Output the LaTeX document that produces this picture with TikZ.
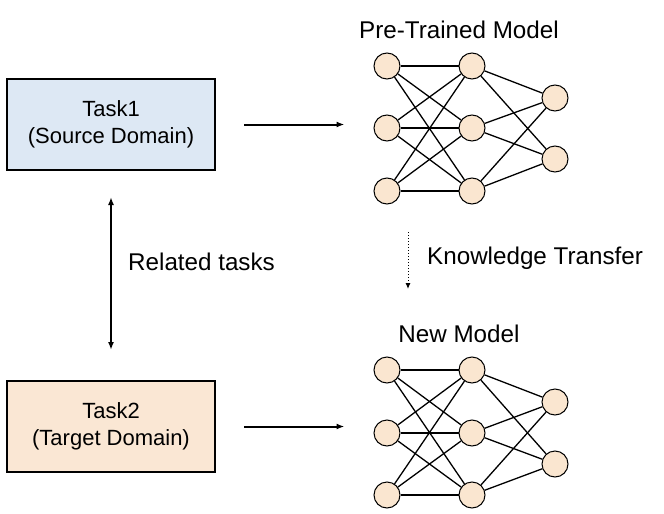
\documentclass[tikz,border=0pt]{standalone}
\usepackage{fontspec}
\setmainfont{Liberation Sans}
\usetikzlibrary{arrows.meta}
\definecolor{sourceblue}{HTML}{DDE8F4}
\definecolor{targetpeach}{HTML}{FAE7D4}
\definecolor{neuronfill}{HTML}{FAE6D0}
\tikzset{
  taskbox/.style={draw,line width=2pt,minimum width=208pt,minimum height=91pt,align=center,font=\fontsize{22}{27}\selectfont},
  neuron/.style={circle,draw,line width=1pt,fill=neuronfill,minimum size=26pt,inner sep=0pt},
  link/.style={line width=1.3pt},
  flow/.style={line width=2pt,-{Latex[length=8pt,width=6pt]}},
  bigtext/.style={font=\fontsize{24.2}{29}\selectfont,inner sep=0pt}
}
\begin{document}
\begin{tikzpicture}[x=1pt,y=-1pt]
    \useasboundingbox (0,0) rectangle (664,514);
    % tasks
    \node[taskbox,fill=sourceblue] (task1) at (111,124.5) {Task1\\(Source Domain)};
    \node[taskbox,fill=targetpeach] (task2) at (111,426.5) {Task2\\(Target Domain)};
    \node[bigtext,anchor=west] (related) at (128,262) {Related tasks};
    % pre-trained model
    \node[bigtext] (pretitle) at (459,30) {Pre-Trained Model};
    \node[neuron] (pi1) at (387,66) {};
    \node[neuron] (pi2) at (387,128) {};
    \node[neuron] (pi3) at (387,191) {};
    \node[neuron] (ph1) at (472,66) {};
    \node[neuron] (ph2) at (472,128) {};
    \node[neuron] (ph3) at (472,191) {};
    \node[neuron] (po1) at (555,98) {};
    \node[neuron] (po2) at (555,159) {};
    % new model
    \node[bigtext] (newtitle) at (459,334) {New Model};
    \node[neuron] (ni1) at (387,370) {};
    \node[neuron] (ni2) at (387,433) {};
    \node[neuron] (ni3) at (387,495) {};
    \node[neuron] (nh1) at (472,370) {};
    \node[neuron] (nh2) at (472,433) {};
    \node[neuron] (nh3) at (472,495) {};
    \node[neuron] (no1) at (555,402) {};
    \node[neuron] (no2) at (555,464) {};
    \foreach \i in {1,2,3} {
        \foreach \j in {1,2,3} {
            \draw[link] (pi\i) -- (ph\j);
            \draw[link] (ni\i) -- (nh\j);
        }
        \foreach \j in {1,2} {
            \draw[link] (ph\i) -- (po\j);
            \draw[link] (nh\i) -- (no\j);
        }
    }
    % transfer
    \node[bigtext,anchor=west] (transfer) at (427,258) {Knowledge Transfer};
    \coordinate (ktop) at (408,232);
    \coordinate (kbot) at (408,289);
    \draw[dotted,line width=1pt,-{Latex[length=6pt,width=5pt]}] (ktop) -- (kbot);
    \draw[flow,shorten <=28pt,shorten >=29pt] (task1.east) -- (task1.east -| pi2.west);
    \draw[flow,shorten <=28pt,shorten >=29pt] (task2.east) -- (task2.east -| ni2.west);
    \draw[flow,{Latex[length=8pt,width=6pt]}-{Latex[length=8pt,width=6pt]},shorten <=26pt,shorten >=30pt] (task1) -- (task2);
\end{tikzpicture}
\end{document}
